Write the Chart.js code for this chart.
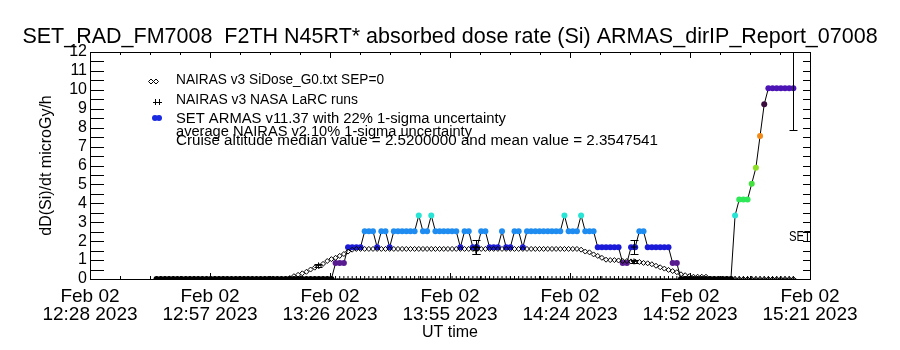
<!DOCTYPE html>
<html>
<head>
<meta charset="utf-8">
<script src="https://cdn.jsdelivr.net/npm/chart.js@4.4.1/dist/chart.umd.min.js"></script>
<style>
html, body { margin: 0; padding: 0; background: #fff; }
#wrap { width: 900px; height: 350px; }
</style>
</head>
<body>
<div id="wrap"><canvas id="chart" width="900" height="350"></canvas></div>
<script>
const FONT = "'Liberation Sans', Arial, sans-serif";

// x axis: minutes after 12:28 UT, Feb 02 2023
const tickMinutes = [0, 28.83, 57.67, 86.5, 115.33, 144.17, 173];
const tickDates = ['Feb 02', 'Feb 02', 'Feb 02', 'Feb 02', 'Feb 02', 'Feb 02', 'Feb 02'];
const tickTimes = ['12:28 2023', '12:57 2023', '13:26 2023', '13:55 2023', '14:24 2023', '14:52 2023', '15:21 2023'];

// one sample per minute, starting 12:44 UT (minute 16)
const firstMinute = 16;

// SET ARMAS v11.37 dose rate, microGy/h
const setValues = [
  0, 0, 0, 0, 0, 0, 0, 0, 0, 0, 0, 0, 0, 0, 0, 0, 0, 0, 0, 0, 0, 0,
  0, 0, 0, 0, 0, 0, 0, 0, 0, 0, 0, 0, 0, 0, 0, 0, 0, 0, 0, 0, 0,
  0.84, 0.84, 0.84, 1.68, 1.68, 1.68, 1.68, 2.52, 2.52, 2.52, 1.68,
  2.52, 2.52, 1.68, 2.52, 2.52, 2.52, 2.52, 2.52, 2.52, 3.36, 2.52, 2.52, 3.36,
  2.52, 2.52, 2.52, 2.52, 2.52, 2.52, 1.68, 2.52, 2.52, 1.68, 1.68, 2.52, 2.52,
  1.68, 1.68, 1.68, 2.52, 1.68, 1.68, 2.52, 2.52, 1.68,
  2.52, 2.52, 2.52, 2.52, 2.52, 2.52, 2.52, 2.52, 2.52, 3.36, 2.52, 2.52, 2.52, 3.36,
  2.52, 2.52, 2.52, 1.68, 1.68, 1.68, 1.68, 1.68, 1.68, 0.84, 0.84, 1.68, 1.68,
  2.52, 2.52, 1.68, 1.68, 1.68, 1.68, 1.68, 1.68, 0.84, 0.84,
  0, 0, 0, 0, 0, 0, 0, 0, 0, 0, 0, 0, 0,
  3.36, 4.2, 4.2, 4.2, 5.04, 5.88, 7.56, 9.24,
  10.08, 10.08, 10.08, 10.08, 10.08, 10.08, 10.08
];
const setErrFraction = 0.22;
const setErrMinutes = [169];

// NAIRAS v3 SiDose_G0.txt SEP=0
const nairasValues = [
  0, 0, 0, 0, 0, 0, 0, 0, 0, 0, 0, 0, 0, 0, 0, 0,
  0, 0, 0, 0, 0, 0, 0, 0, 0, 0, 0, 0, 0, 0, 0, 0,
  0.05, 0.15, 0.22, 0.3, 0.38, 0.5, 0.6, 0.68, 0.8, 0.95, 1.05, 1.12, 1.22, 1.32, 1.45, 1.55,
  1.59, 1.59, 1.59, 1.59, 1.59, 1.59, 1.59, 1.59, 1.59, 1.59, 1.59, 1.59, 1.59, 1.59,
  1.59, 1.59, 1.59, 1.59, 1.59, 1.59, 1.59, 1.59, 1.59, 1.59, 1.59, 1.59, 1.59, 1.59,
  1.59, 1.59, 1.59, 1.59, 1.59, 1.59, 1.59, 1.59, 1.59, 1.59, 1.59, 1.59, 1.59, 1.59,
  1.59, 1.59, 1.59, 1.59, 1.59, 1.59, 1.59, 1.59, 1.59, 1.59, 1.59, 1.59,
  1.55, 1.45, 1.41, 1.3, 1.22, 1.12, 1.02, 1.0, 1.0, 0.98, 0.95, 0.95, 0.93, 0.92, 0.9, 0.85,
  0.83, 0.78, 0.7, 0.62, 0.55, 0.48, 0.42, 0.36, 0.25, 0.2, 0.15, 0.12, 0.12, 0.12, 0.12,
  0, 0, 0, 0, 0, 0, 0, 0, 0, 0, 0, 0, 0, 0, 0, 0, 0, 0, 0, 0, 0
];

// NAIRAS v3 NASA LaRC runs with error bars
const larcMinutes = [54.9, 92.7, 92.7, 130.7, 130.7];
const larcValues = [0.72, 1.69, 1.5, 1.69, 0.93];
const larcErrors = [0.07, 0.37, 0.2, 0.37, 0.07];

const minuteOf = (i) => firstMinute + i;

function levelColor(v) {
  if (v <= 0) return '#000000';
  if (v < 1.2) return '#581c90';
  if (v < 2.1) return '#1a1ad8';
  if (v < 2.9) return '#1e8cf0';
  if (v < 3.8) return '#28e4d4';
  if (v < 4.6) return '#2ee858';
  if (v < 5.5) return '#44e040';
  if (v < 6.5) return '#8ee024';
  if (v < 8.4) return '#f08a18';
  if (v < 9.7) return '#3a0c3e';
  return '#4c14b4';
}

const setPoints = setValues.map((v, i) => ({ x: minuteOf(i), y: v }));
const nairasPoints = nairasValues.map((v, i) => ({ x: minuteOf(i), y: v }));
const basePoints = setValues.map((v, i) => ({ x: minuteOf(i), y: 0 }));
const larcPoints = larcMinutes.map((m, i) => ({ x: m, y: larcValues[i] }));

function line(ctx, x1, y1, x2, y2) {
  ctx.beginPath();
  ctx.moveTo(x1, y1);
  ctx.lineTo(x2, y2);
  ctx.stroke();
}

// draw text squeezed or stretched to a given width
function fitText(ctx, text, x, y, width) {
  const w = ctx.measureText(text).width;
  ctx.save();
  ctx.translate(x, y);
  ctx.scale(width / w, 1);
  ctx.fillText(text, 0, 0);
  ctx.restore();
}

const framePlugin = {
  id: 'frame',
  afterDatasetsDraw(chart) {
    const { ctx, chartArea: a, scales: { x, y } } = chart;
    ctx.save();
    ctx.strokeStyle = '#000';
    ctx.fillStyle = '#000';
    ctx.lineWidth = 1;

    // error bars, clipped to the plot
    ctx.save();
    ctx.beginPath();
    ctx.rect(a.left, a.top, a.right - a.left, a.bottom - a.top);
    ctx.clip();
    larcMinutes.forEach((m, i) => {
      const px = Math.round(x.getPixelForValue(m)) + 0.5;
      const y1 = Math.round(y.getPixelForValue(larcValues[i] - larcErrors[i])) + 0.5;
      const y2 = Math.round(y.getPixelForValue(larcValues[i] + larcErrors[i])) + 0.5;
      line(ctx, px, y1, px, y2);
      line(ctx, px - 4, y1, px + 4, y1);
      line(ctx, px - 4, y2, px + 4, y2);
    });
    setErrMinutes.forEach((m) => {
      const v = setValues[m - firstMinute];
      const px = Math.round(x.getPixelForValue(m)) + 0.5;
      const y1 = Math.round(y.getPixelForValue(v * (1 - setErrFraction))) + 0.5;
      const y2 = Math.round(y.getPixelForValue(v * (1 + setErrFraction))) + 0.5;
      line(ctx, px, y1, px, y2);
      line(ctx, px - 4, y1, px + 4, y1);
      line(ctx, px - 4, y2, px + 4, y2);
    });
    ctx.restore();

    // box
    ctx.strokeRect(a.left + 0.5, a.top + 0.5, a.right - a.left, a.bottom - a.top);

    // y ticks every 0.5 on both sides
    for (let v = 0; v <= 12; v += 0.5) {
      const py = Math.round(y.getPixelForValue(v)) + 0.5;
      line(ctx, a.left, py, a.left + 14, py);
      line(ctx, a.right - 7, py, a.right, py);
    }
    // x ticks, major and minor, top and bottom
    tickMinutes.forEach((m, i) => {
      const px = Math.round(x.getPixelForValue(m)) + 0.5;
      line(ctx, px, a.bottom, px, a.bottom - 6);
      line(ctx, px, a.top, px, a.top + 6);
      if (i < tickMinutes.length - 1) {
        for (let k = 1; k < 4; k++) {
          const mm = m + (tickMinutes[i + 1] - m) * k / 4;
          const qx = Math.round(x.getPixelForValue(mm)) + 0.5;
          line(ctx, qx, a.bottom, qx, a.bottom - 3);
          line(ctx, qx, a.top, qx, a.top + 3);
        }
      }
    });

    // legend
    ctx.font = '14px ' + FONT;
    ctx.textBaseline = 'middle';
    ctx.textAlign = 'left';
    const rows = [
      ['NAIRAS v3 SiDose_G0.txt SEP=0', 80, 208],
      ['NAIRAS v3 NASA LaRC runs', 100, 182],
      ['SET ARMAS v11.37 with 22% 1-sigma uncertainty', 119, 330],
      ['average NAIRAS v2 10% 1-sigma uncertainty', 132, 296],
      ['Cruise altitude median value = 2.5200000 and mean value = 2.3547541', 141, 482]
    ];
    rows.forEach(([t, ty, tw]) => fitText(ctx, t, 176, ty, tw));
    // legend symbols
    [151, 156].forEach((sx) => {
      ctx.beginPath();
      ctx.moveTo(sx - 2.5, 81.5); ctx.lineTo(sx, 79); ctx.lineTo(sx + 2.5, 81.5); ctx.lineTo(sx, 84);
      ctx.closePath();
      ctx.stroke();
    });
    [155, 159].forEach((sx) => {
      line(ctx, sx + 0.5, 99, sx + 0.5, 105);
      line(ctx, sx - 2, 102.5, sx + 3, 102.5);
    });
    ctx.fillStyle = '#1a2ae0';
    [155, 159].forEach((sx) => {
      ctx.beginPath();
      ctx.arc(sx, 118, 3, 0, Math.PI * 2);
      ctx.fill();
    });

    // SET label at right edge
    ctx.fillStyle = '#000';
    ctx.font = '14px ' + FONT;
    fitText(ctx, 'SET', 789, 237, 22);

    ctx.restore();
  }
};

Chart.defaults.font.family = FONT;
Chart.defaults.color = '#000';

new Chart(document.getElementById('chart').getContext('2d'), {
  type: 'scatter',
  data: {
    datasets: [
      {
        label: 'NAIRAS v3 SiDose_G0.txt SEP=0',
        data: nairasPoints,
        pointStyle: 'rectRot',
        pointRadius: 2.5,
        borderColor: '#000',
        backgroundColor: 'rgba(0,0,0,0)',
        pointBorderWidth: 1,
        showLine: false
      },
      {
        label: 'NAIRAS v3 NASA LaRC runs',
        data: larcPoints,
        pointStyle: 'cross',
        pointRadius: 3,
        borderColor: '#000',
        pointBorderWidth: 1,
        showLine: false
      },
      {
        label: 'baseline',
        data: basePoints,
        pointStyle: 'cross',
        pointRadius: 3,
        borderColor: '#000',
        pointBorderWidth: 1,
        showLine: false
      },
      {
        label: 'SET ARMAS v11.37',
        data: setPoints,
        showLine: true,
        borderColor: '#000',
        borderWidth: 1,
        pointRadius: 3,
        pointBorderWidth: 0,
        pointBackgroundColor: setValues.map(levelColor),
        pointBorderColor: setValues.map(levelColor)
      }
    ]
  },
  options: {
    responsive: false,
    animation: false,
    devicePixelRatio: 1,
    layout: { padding: 0 },
    plugins: {
      legend: { display: false },
      tooltip: { enabled: false },
      title: {
        display: true,
        text: 'SET_RAD_FM7008  F2TH N45RT* absorbed dose rate (Si) ARMAS_dirIP_Report_07008',
        font: { size: 21.5, weight: 'normal', family: FONT },
        color: '#000',
        padding: { top: 24.1, bottom: 2.1 }
      }
    },
    scales: {
      x: {
        type: 'linear',
        min: 0,
        max: 173,
        afterBuildTicks: (scale) => { scale.ticks = tickMinutes.map(v => ({ value: v })); },
        afterFit: (scale) => { scale.height = 71; },
        grid: { display: false, drawTicks: false },
        border: { display: false },
        ticks: {
          autoSkip: false,
          maxRotation: 0,
          minRotation: 0,
          padding: 9,
          color: '#000',
          font: { size: 19, lineHeight: 0.95 },
          callback: (value, index) => [tickDates[index], tickTimes[index]]
        },
        title: {
          display: true,
          text: 'UT time',
          color: '#000',
          font: { size: 16 },
          padding: { top: 0, bottom: 7.4 }
        }
      },
      y: {
        min: 0,
        max: 12,
        afterFit: (scale) => { scale.width = 90; },
        grid: { display: false, drawTicks: false },
        border: { display: false },
        ticks: {
          stepSize: 1,
          autoSkip: false,
          padding: 3,
          color: '#000',
          font: { size: 16 }
        },
        title: {
          display: true,
          text: 'dD(Si)/dt microGy/h',
          color: '#000',
          font: { size: 16 },
          padding: { top: 37.4, bottom: 0 }
        }
      },
      yRight: {
        position: 'right',
        min: 0,
        max: 12,
        afterFit: (scale) => { scale.width = 90; },
        grid: { display: false, drawTicks: false },
        border: { display: false },
        ticks: { display: false }
      }
    }
  },
  plugins: [framePlugin]
});
</script>
</body>
</html>
